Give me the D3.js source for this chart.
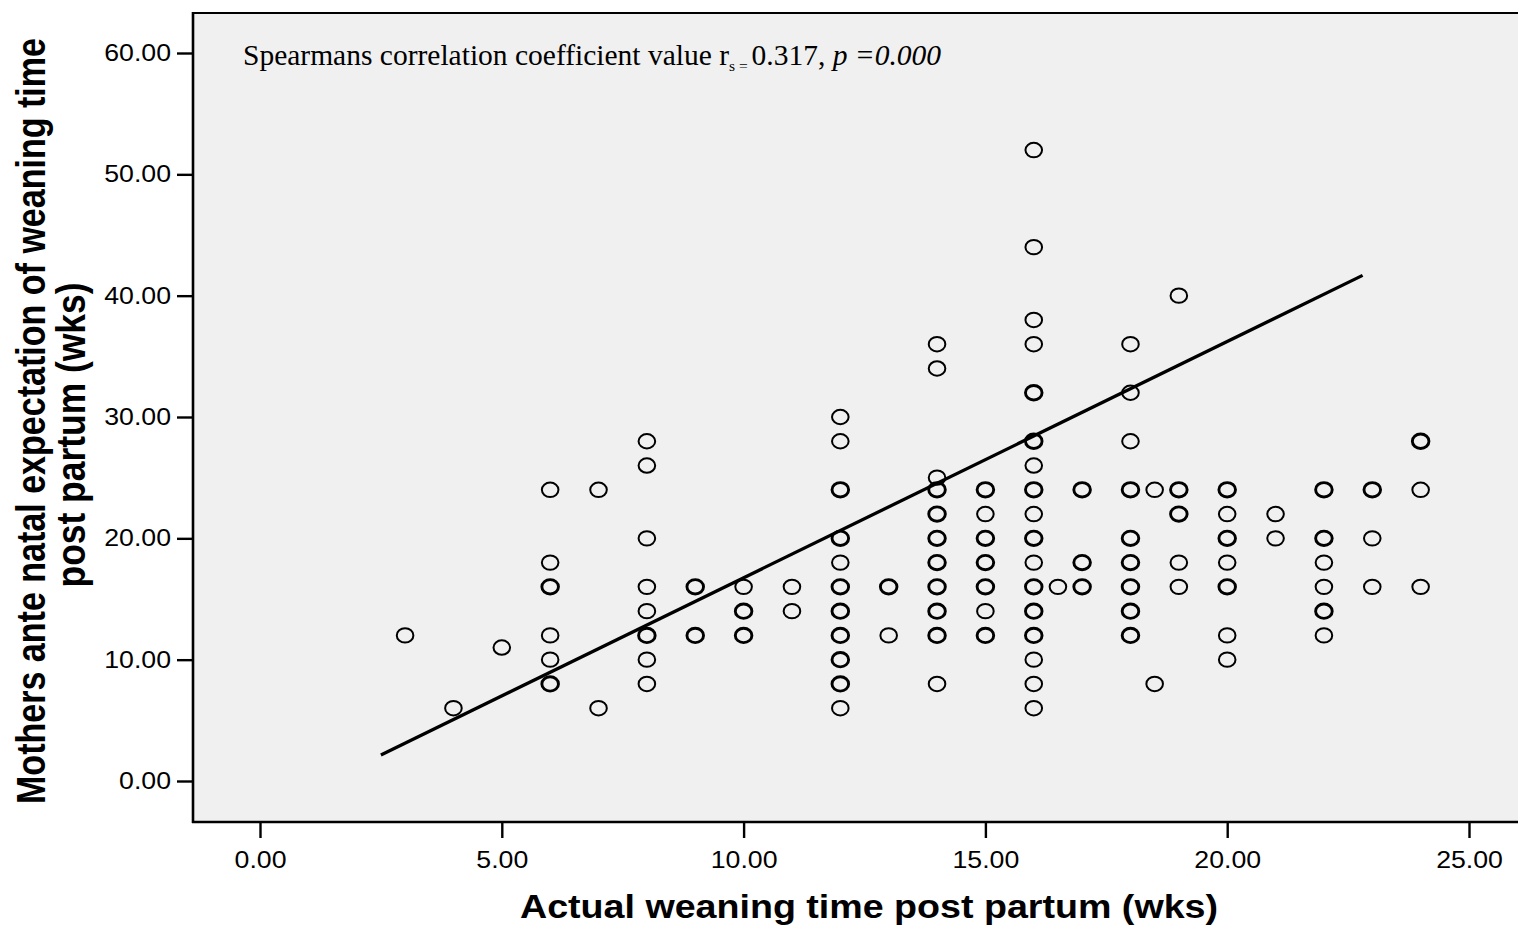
<!DOCTYPE html>
<html>
<head>
<meta charset="utf-8">
<script src="https://cdn.jsdelivr.net/npm/d3@7/dist/d3.min.js"></script>
<style>
  html, body { margin: 0; padding: 0; background: #ffffff; }
  svg { display: block; }
</style>
</head>
<body>
<svg id="chart" width="1518" height="928"></svg>
<script>
// Actual weaning time (wks) for each plotted case
const actualWks = [
  3, 4, 5,
  6, 6, 6, 6, 6, 6,
  7, 7,
  8, 8, 8, 8, 8, 8, 8, 8,
  9, 9,
  10, 10, 10,
  11, 11,
  12, 12, 12, 12, 12, 12, 12, 12, 12, 12, 12,
  13, 13,
  14, 14, 14, 14, 14, 14, 14, 14, 14, 14, 14,
  15, 15, 15, 15, 15, 15, 15,
  16, 16, 16, 16, 16, 16, 16, 16, 16, 16, 16, 16, 16, 16, 16, 16, 16,
  16.5,
  17, 17, 17,
  18, 18, 18, 18, 18, 18, 18, 18, 18,
  18.5, 18.5,
  19, 19, 19, 19, 19,
  20, 20, 20, 20, 20, 20, 20,
  21, 21,
  22, 22, 22, 22, 22, 22,
  23, 23, 23,
  24, 24, 24
];
// Mother's ante natal expected weaning time (wks), same order
const expectedWks = [
  12, 6, 11,
  24, 18, 16, 12, 10, 8,
  24, 6,
  28, 26, 20, 16, 14, 12, 10, 8,
  16, 12,
  16, 14, 12,
  16, 14,
  30, 28, 24, 20, 18, 16, 14, 12, 10, 8, 6,
  16, 12,
  36, 34, 25, 24, 22, 20, 18, 16, 14, 12, 8,
  24, 22, 20, 18, 16, 14, 12,
  52, 44, 38, 36, 32, 28, 26, 24, 22, 20, 18, 16, 14, 12, 10, 8, 6,
  16,
  24, 18, 16,
  36, 32, 28, 24, 20, 18, 16, 14, 12,
  24, 8,
  40, 24, 22, 18, 16,
  24, 22, 20, 18, 16, 12, 10,
  22, 20,
  24, 20, 18, 16, 14, 12,
  24, 20, 16,
  28, 24, 16
];
// Number of cases sharing each plotted position
const repeats = [
  1, 1, 1,
  1, 1, 2, 1, 1, 2,
  1, 1,
  1, 1, 1, 1, 1, 2, 1, 1,
  2, 2,
  1, 2, 2,
  1, 1,
  1, 1, 2, 2, 1, 2, 2, 2, 2, 2, 1,
  2, 1,
  1, 1, 1, 2, 2, 2, 2, 2, 2, 2, 1,
  2, 1, 2, 2, 2, 1, 2,
  1, 1, 1, 1, 2, 2, 1, 2, 1, 2, 1, 2, 2, 2, 1, 1, 1,
  1,
  2, 2, 2,
  1, 1, 1, 2, 2, 2, 2, 2, 2,
  1, 1,
  1, 2, 2, 1, 1,
  2, 1, 2, 1, 2, 1, 1,
  1, 1,
  2, 2, 1, 1, 2, 1,
  2, 1, 1,
  2, 1, 1
];

// Linear fit line: expected = intercept + slope * actual, over the fitted range
const fitSlope = 1.947;
const fitIntercept = -2.72;
const fitRange = [2.5, 22.8];

const xTicks = [0, 5, 10, 15, 20, 25];
const yTicks = [0, 10, 20, 30, 40, 50, 60];

const xTitle = "Actual weaning time post partum (wks)";
const yTitleLines = ["Mothers ante natal expectation of weaning time", "post partum (wks)"];

const svg = d3.select("#chart");

const frame = { left: 193, top: 12, right: 1518, bottom: 822 };

const x = d3.scaleLinear().domain([0, 25]).range([260, 1469]);
const y = d3.scaleLinear().domain([0, 60]).range([781, 53]);

// plot background
svg.append("rect")
  .attr("x", frame.left).attr("y", frame.top)
  .attr("width", frame.right - frame.left)
  .attr("height", frame.bottom - frame.top)
  .attr("fill", "#f0f0f0");

// top border
svg.append("line")
  .attr("x1", frame.left - 1).attr("x2", frame.right)
  .attr("y1", frame.top + 1).attr("y2", frame.top + 1)
  .attr("stroke", "#000").attr("stroke-width", 2);

const fmt = d3.format(".2f");
const sansFont = "'Liberation Sans', Arial, sans-serif";

// stretch tick labels horizontally
function widen(sel, factor) {
  sel.each(function () {
    const len = this.getComputedTextLength();
    d3.select(this).attr("textLength", len * factor).attr("lengthAdjust", "spacingAndGlyphs");
  });
}

// y axis
const yAxisG = svg.append("g")
  .attr("transform", `translate(${frame.left},0)`)
  .call(d3.axisLeft(y).tickValues(yTicks).tickFormat(fmt).tickSize(16).tickPadding(6).tickSizeOuter(0));
yAxisG.select(".domain").remove();
yAxisG.selectAll(".tick line").attr("stroke", "#000").attr("stroke-width", 2.4);
yAxisG.selectAll(".tick text")
  .attr("font-family", sansFont).attr("font-size", 23).attr("fill", "#000");
widen(yAxisG.selectAll(".tick text"), 1.16);

// x axis
const xAxisG = svg.append("g")
  .attr("transform", `translate(0,${frame.bottom})`)
  .call(d3.axisBottom(x).tickValues(xTicks).tickFormat(fmt).tickSize(16).tickPadding(14).tickSizeOuter(0));
xAxisG.select(".domain").remove();
xAxisG.selectAll(".tick line").attr("stroke", "#000").attr("stroke-width", 2.4);
xAxisG.selectAll(".tick text")
  .attr("font-family", sansFont).attr("font-size", 23).attr("fill", "#000");
widen(xAxisG.selectAll(".tick text"), 1.16);

// axis lines
svg.append("line")
  .attr("x1", frame.left).attr("x2", frame.left)
  .attr("y1", frame.top).attr("y2", frame.bottom + 1)
  .attr("stroke", "#000").attr("stroke-width", 2.6);
svg.append("line")
  .attr("x1", frame.left - 1).attr("x2", frame.right)
  .attr("y1", frame.bottom).attr("y2", frame.bottom)
  .attr("stroke", "#000").attr("stroke-width", 2.6);

// scatter markers
const pts = actualWks.map((a, i) => ({ a, e: expectedWks[i], n: repeats[i] }));
svg.append("g").selectAll("ellipse")
  .data(pts)
  .join("ellipse")
  .attr("cx", d => x(d.a))
  .attr("cy", d => y(d.e))
  .attr("rx", 8.3)
  .attr("ry", 7.2)
  .attr("fill", "none")
  .attr("stroke", "#000")
  .attr("stroke-width", d => d.n > 1 ? 2.9 : 2.0);

// fit line
const fitLine = d3.line().x(d => x(d)).y(d => y(fitIntercept + fitSlope * d));
svg.append("path")
  .attr("d", fitLine(fitRange))
  .attr("fill", "none")
  .attr("stroke", "#000")
  .attr("stroke-width", 3.3);

// correlation note
const note = svg.append("text")
  .attr("x", 243).attr("y", 65)
  .attr("font-family", "'Liberation Serif', 'Times New Roman', serif")
  .attr("font-size", 29.5)
  .attr("fill", "#000");
note.append("tspan").text("Spearmans correlation coefficient value r");
note.append("tspan").attr("font-size", 15.5).attr("dy", 6).text("s = ");
note.append("tspan").attr("dy", -6).text("0.317, ");
note.append("tspan").attr("font-style", "italic").text("p =0.000");

// x axis title
svg.append("text")
  .attr("x", 869).attr("y", 918)
  .attr("text-anchor", "middle")
  .attr("font-family", sansFont)
  .attr("font-weight", "bold")
  .attr("font-size", 34)
  .attr("textLength", 698)
  .attr("lengthAdjust", "spacingAndGlyphs")
  .attr("fill", "#000")
  .text(xTitle);

// y axis title (two lines, tall condensed lettering)
const yTitleLens = [766, 305];
const yTitleBase = [45, 85];
const yTitleMid = [421, 435];
yTitleLines.forEach((t, i) => {
  svg.append("text")
    .attr("transform", `translate(${yTitleBase[i]},${yTitleMid[i]}) rotate(-90) scale(1,1.18)`)
    .attr("text-anchor", "middle")
    .attr("font-family", sansFont)
    .attr("font-weight", "bold")
    .attr("font-size", 34)
    .attr("textLength", yTitleLens[i])
    .attr("lengthAdjust", "spacingAndGlyphs")
    .attr("fill", "#000")
    .text(t);
});
</script>
</body>
</html>
